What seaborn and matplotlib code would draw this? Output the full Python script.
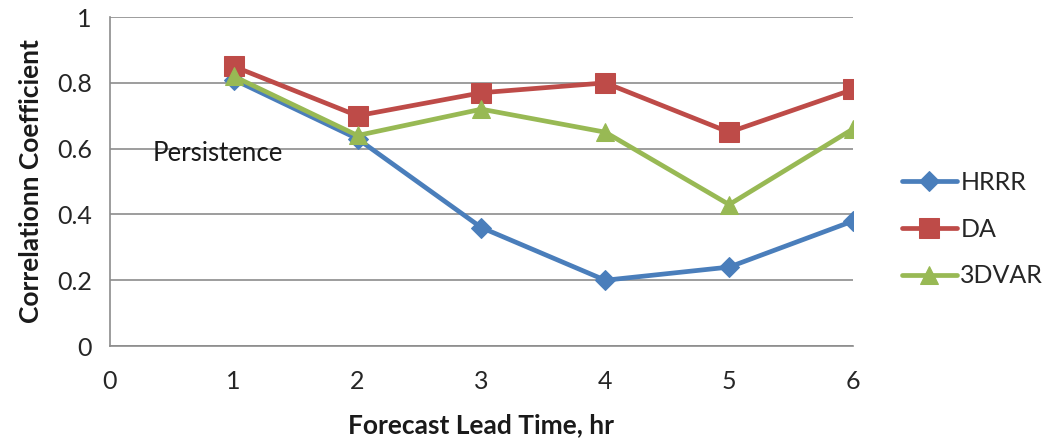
import matplotlib
matplotlib.use("Agg")
import matplotlib.pyplot as plt
import seaborn as sns
import pandas as pd

# Forecast lead time (hours) and correlation coefficients per system
lead_time = [1, 2, 3, 4, 5, 6]
hrrr = [0.81, 0.63, 0.36, 0.20, 0.24, 0.38]
da = [0.85, 0.70, 0.77, 0.80, 0.65, 0.78]
var3d = [0.82, 0.64, 0.72, 0.65, 0.43, 0.66]
series_names = ["HRRR", "DA", "3DVAR"]
x_ticks = [0, 1, 2, 3, 4, 5, 6]
y_ticks = [0, 0.2, 0.4, 0.6, 0.8, 1.0]
y_tick_labels = ["0", "0.2", "0.4", "0.6", "0.8", "1"]

colors = {"HRRR": "#4A7EBB", "DA": "#BE4B48", "3DVAR": "#98B954"}
markers = {"HRRR": "D", "DA": "s", "3DVAR": "^"}
msizes = {"HRRR": 10, "DA": 14, "3DVAR": 13}

df = pd.concat([
    pd.DataFrame({"lead": lead_time, "corr": vals, "series": name})
    for name, vals in zip(series_names, [hrrr, da, var3d])
], ignore_index=True)

sns.set_style("white")
plt.rcParams["font.family"] = ["Lato", "DejaVu Sans"]

fig = plt.figure(figsize=(10.46, 4.38), dpi=100)
ax = fig.add_axes([0.105, 0.21, 0.7105, 0.751])

for name in series_names:
    sub = df[df["series"] == name]
    sns.lineplot(data=sub, x="lead", y="corr", ax=ax, color=colors[name],
                 marker=markers[name], markersize=msizes[name],
                 markeredgecolor=colors[name], linewidth=3.4, label=name,
                 legend=False, zorder=3)

ax.set_xlim(0, 6)
ax.set_ylim(0, 1)
ax.set_xticks(x_ticks)
ax.set_yticks(y_ticks)
ax.set_yticklabels(y_tick_labels)
ax.yaxis.grid(True, color="#8c8c8c", linewidth=1.2)
ax.xaxis.grid(False)
for side in ["top", "right"]:
    ax.spines[side].set_visible(False)
for side in ["left", "bottom"]:
    ax.spines[side].set_color("#8c8c8c")
    ax.spines[side].set_linewidth(1.2)
ax.tick_params(axis="both", which="both", direction="out", length=8,
               width=1.2, color="#8c8c8c", labelsize=18, labelcolor="#262626")
ax.tick_params(axis="x", pad=9)
ax.tick_params(axis="y", pad=5)

ax.set_xlabel("Forecast Lead Time, hr", fontsize=19, fontweight="bold",
              color="#1a1a1a", labelpad=15)
ax.set_ylabel("Correlationn Coefficient", fontsize=19, fontweight="bold",
              color="#1a1a1a", labelpad=10)

ax.text(0.345, 0.585, "Persistence", fontsize=18.5, color="#1a1a1a",
        va="center", ha="left")

handles, labels = ax.get_legend_handles_labels()
leg = fig.legend(handles, labels, loc="center left",
                 bbox_to_anchor=(0.862, 0.477), frameon=False, fontsize=18,
                 handlelength=2.2, handletextpad=0.15, labelspacing=0.95,
                 borderpad=0, borderaxespad=0, labelcolor="#262626")

fig.savefig("out.png", dpi=100)
